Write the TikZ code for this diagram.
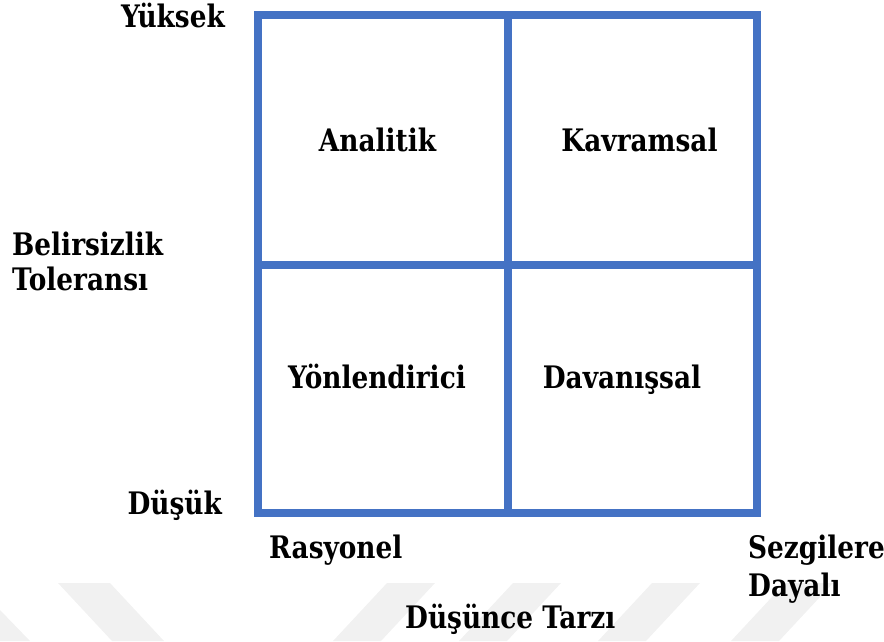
\documentclass[tikz,border=0pt]{standalone}
\usepackage{fontspec}
\setmainfont{DejaVu Serif}[FakeStretch=0.85]
\definecolor{gridblue}{RGB}{68,114,196}
\definecolor{wmgray}{RGB}{241,241,241}
\begin{document}
\begin{tikzpicture}[x=1pt,y=-1pt,
  lab/.style={inner sep=0pt,font=\fontsize{31}{35}\selectfont\bfseries},
  gridline/.style={draw=gridblue,line width=8pt},
  wm/.style={fill=wmgray,draw=none}]
\useasboundingbox (0,0) rectangle (884,641);
% faint watermark bands
\fill[wm] (58,583) -- (110,583) -- (164,641) -- (112,641) -- cycle;
\fill[wm] (0,610) -- (30,641) -- (0,641) -- cycle;
\foreach \t in {387,513,652,785}{
  \fill[wm] (\t,583) -- (\t+48,583) -- (\t-6,641) -- (\t-54,641) -- cycle;
}
% grid
\coordinate (tl) at (258,15);
\coordinate (br) at (757,513);
\coordinate (tm) at (508,15);
\coordinate (bm) at (508,513);
\coordinate (ml) at (258,265);
\coordinate (mr) at (757,265);
\draw[gridline] (tl) rectangle (br);
\draw[gridline] (tm) -- (bm);
\draw[gridline] (ml) -- (mr);
% quadrant labels
\node[lab,anchor=base] (analitik) at (377.5,151) {Analitik};
\node[lab,anchor=base] (kavramsal) at (639.5,151) {Kavramsal};
\node[lab,anchor=base] (yon) at (377,388) {Yönlendirici};
\node[lab,anchor=base] (davan) at (622,388) {Davanışsal};
% axis labels
\node[lab,anchor=base east] (yuksek) at (225,27) {Yüksek};
\node[lab,anchor=base east] (dusuk) at (222,514) {Düşük};
\node[lab,anchor=base west] (beli) at (12,255) {Belirsizlik};
\node[lab,anchor=base west] (tol) at (12,290) {Toleransı};
\node[lab,anchor=base west] (rasy) at (269,558) {Rasyonel};
\node[lab,anchor=base west] (sez) at (748,558) {Sezgilere};
\node[lab,anchor=base west] (day) at (748,596) {Dayalı};
\node[lab,anchor=base west] (dtarz) at (405,628) {Düşünce Tarzı};
\end{tikzpicture}
\end{document}
